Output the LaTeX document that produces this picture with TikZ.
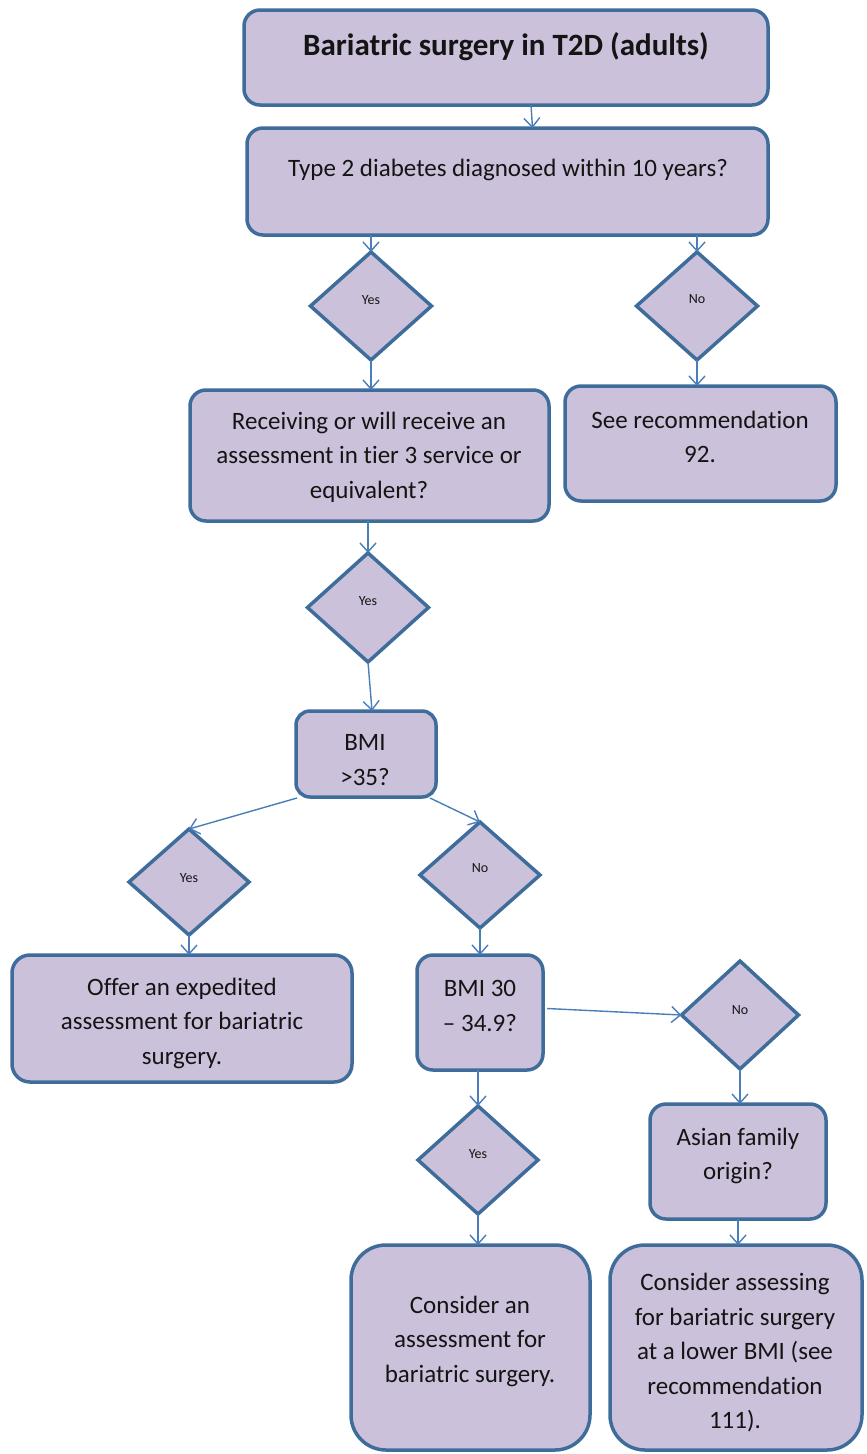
\documentclass[tikz,border=0pt]{standalone}
\usepackage{fontspec}
\setmainfont{Carlito}[Ligatures=NoCommon]
\usetikzlibrary{shapes.geometric,arrows.meta}
\definecolor{boxfill}{HTML}{CCC1DA}
\definecolor{boxline}{HTML}{3F6D9B}
\definecolor{arrowcol}{HTML}{4A7EBB}
\tikzset{
  box/.style={draw=boxline, fill=boxfill, line width=3.5pt, inner sep=0pt, outer sep=0pt, rounded corners=#1},
  box/.default=16pt,
  dec/.style={diamond, draw=boxline, fill=boxfill, line width=3.5pt, inner sep=0pt, outer sep=0pt, aspect=1.1},
  txt/.style={align=center, inner sep=0pt, font=\fontsize{25}{34.5}\selectfont, text=black!92},
  small/.style={inner sep=0pt, font=\fontsize{14}{16}\selectfont, text=black!92},
  conn/.style={draw=arrowcol, line width=1.4pt, -{Straight Barb[length=9pt,width=16pt,line width=1.4pt]}}
}
\begin{document}
\begin{tikzpicture}[x=1pt,y=-1pt]
\useasboundingbox (0,0) rectangle (867,1454);
% boxes
\node[box, minimum width=524, minimum height=95] (title) at (506,57.5) {};
\node[box, minimum width=521, minimum height=107] (t2) at (507.5,181.5) {};
\node[box, minimum width=359, minimum height=131] (recv) at (369.5,455.5) {};
\node[box, minimum width=271, minimum height=115] (see) at (700.5,443.5) {};
\node[box=14pt, minimum width=140, minimum height=86] (bmi35) at (366,754) {};
\node[box=18pt, minimum width=340, minimum height=127] (offer) at (182,1018.5) {};
\node[box, minimum width=126, minimum height=115] (bmi30) at (480,1012.5) {};
\node[box, minimum width=176, minimum height=115] (asian) at (738,1161.5) {};
\node[box=35pt, minimum width=239, minimum height=205] (cons1) at (470.5,1347.5) {};
\node[box=35pt, minimum width=252, minimum height=205] (cons2) at (736,1347.5) {};
% diamonds
\node[dec, minimum width=121, minimum height=108] (d1) at (371,306) {};
\node[dec, minimum width=121, minimum height=108] (d2) at (697,306) {};
\node[dec, minimum width=121, minimum height=109] (d3) at (368,607.5) {};
\node[dec, minimum width=120, minimum height=106] (d4) at (189,882) {};
\node[dec, minimum width=120, minimum height=106] (d5) at (480,875) {};
\node[dec, minimum width=117, minimum height=108] (d6) at (740,1015) {};
\node[dec, minimum width=120, minimum height=108] (d7) at (478,1160) {};
% texts
\node[txt, font=\fontsize{31}{36}\selectfont\bfseries] (ttitle) at (506,47) {Bariatric surgery in T2D (adults)};
\node[txt] (tt2) at (508,170) {Type 2 diabetes diagnosed within 10 years?};
\node[small] (td1) at (371,300) {Yes};
\node[small] (td2) at (697,299) {No};
\node[txt] (trecv) at (369,457) {Receiving or will receive an\\assessment in tier 3 service or\\equivalent?};
\node[txt] (tsee) at (700,437) {See recommendation\\92.};
\node[small] (td3) at (368,601) {Yes};
\node[txt] (tbmi35) at (365,760) {BMI\\>35?};
\node[small] (td4) at (189,878) {Yes};
\node[small] (td5) at (480,868) {No};
\node[txt] (toffer) at (182,1023) {Offer an expedited\\assessment for bariatric\\surgery.};
\node[txt] (tbmi30) at (480,1006) {BMI 30\\– 34.9?};
\node[small] (td6) at (740,1010) {No};
\node[txt] (tasian) at (738,1156) {Asian family\\origin?};
\node[small] (td7) at (478,1154) {Yes};
\node[txt] (tcons1) at (470,1341) {Consider an\\assessment for\\bariatric surgery.};
\node[txt] (tcons2) at (735,1353) {Consider assessing\\for bariatric surgery\\at a lower BMI (see\\recommendation\\111).};
% connectors
\draw[conn] ([xshift=25pt]title.south) -- ([xshift=25pt]t2.north);
\draw[conn] (t2.south -| d1.north) -- (d1.north);
\draw[conn] (t2.south -| d2.north) -- (d2.north);
\draw[conn] (d1.south) -- (d1.south |- recv.north);
\draw[conn] (d2.south) -- (d2.south |- see.north);
\draw[conn] (recv.south -| d3.north) -- (d3.north);
\draw[conn] (d3.south) -- ([xshift=6pt]bmi35.north);
\draw[conn] ([xshift=1pt,yshift=-1pt]bmi35.south west) -- (d4.north);
\draw[conn] ([xshift=-6pt,yshift=-1pt]bmi35.south east) -- (d5.north);
\draw[conn] (d4.south) -- (d4.south |- offer.north);
\draw[conn] (d5.south) -- (d5.south |- bmi30.north);
\draw[conn] ([xshift=4pt,yshift=4pt]bmi30.east) -- (d6.west);
\draw[conn] (d6.south) -- (d6.south |- asian.north);
\draw[conn] (bmi30.south -| d7.north) -- (d7.north);
\draw[conn] (d7.south) -- (d7.south |- cons1.north);
\draw[conn] (asian.south) -- (asian.south |- cons2.north);
\end{tikzpicture}
\end{document}
